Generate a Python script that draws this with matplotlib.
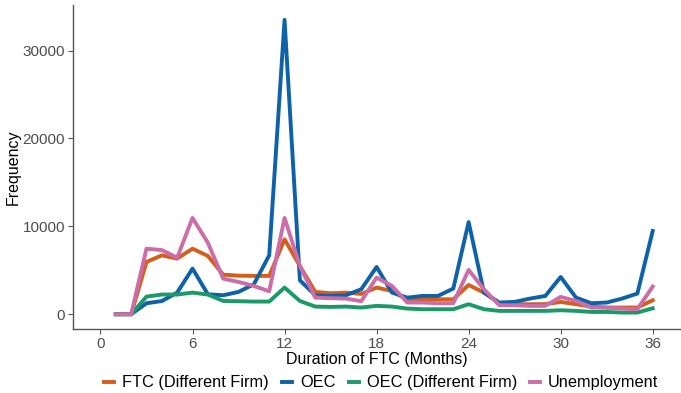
import matplotlib
matplotlib.use("Agg")
import matplotlib.pyplot as plt

plt.rcParams['font.family'] = ['Liberation Sans', 'DejaVu Sans']

months = list(range(1, 37))

ftc_diff = [0, 0, 5950, 6700, 6330, 7460, 6630, 4500, 4390, 4360, 4360, 8520,
            5490, 2540, 2390, 2460, 2310, 3030, 2650, 1630, 1700, 1700, 1700, 3330,
            2460, 1250, 1140, 1140, 1140, 1400, 1140, 870, 760, 760, 760, 1590]
oec = [0, 0, 1250, 1500, 2460, 5190, 2270, 2160, 2540, 3410, 6700, 33500,
       3860, 2160, 2080, 2160, 2840, 5380, 2460, 1890, 2080, 2080, 2920, 10490,
       2460, 1330, 1400, 1780, 2080, 4240, 1890, 1250, 1330, 1780, 2350, 9470]
oec_diff = [0, 0, 2000, 2240, 2240, 2460, 2240, 1510, 1480, 1440, 1440, 3030,
            1510, 870, 830, 870, 760, 950, 870, 640, 570, 570, 570, 1140,
            570, 380, 380, 380, 380, 450, 380, 260, 260, 190, 190, 680]
unemp = [0, 0, 7460, 7300, 6440, 10950, 8140, 4050, 3670, 3220, 2610, 10950,
         5490, 1890, 1820, 1780, 1480, 4170, 3220, 1330, 1330, 1250, 1250, 5040,
         2840, 1020, 1020, 950, 950, 1970, 1510, 760, 760, 640, 570, 3150]

series = [
    ("FTC (Different Firm)", ftc_diff, "#D55E1A"),
    ("OEC", oec, "#0E62A8"),
    ("OEC (Different Firm)", oec_diff, "#1B9A68"),
    ("Unemployment", unemp, "#CC6DA8"),
]

fig = plt.figure(figsize=(6.81, 3.93), dpi=100)
ax = fig.add_axes([0.107, 0.163, 0.892, 0.824])

for name, vals, col in series:
    ax.plot(months, vals, color=col, lw=2.8, label=name)

ax.set_xlim(-1.8, 37.8)
ax.set_ylim(-1675, 35175)
ax.set_xticks([0, 6, 12, 18, 24, 30, 36])
ax.set_yticks([0, 10000, 20000, 30000])

for s in ['top', 'right']:
    ax.spines[s].set_visible(False)
for s in ['left', 'bottom']:
    ax.spines[s].set_color('#555555')
    ax.spines[s].set_linewidth(1.0)

ax.tick_params(axis='both', colors='#555555', labelcolor='#4D4D4D',
               labelsize=11, length=3.5, width=0.8, pad=2)
ax.set_xlabel("Duration of FTC (Months)", fontsize=11.5, labelpad=1)
ax.set_ylabel("Frequency", fontsize=11.5)
ax.yaxis.set_label_coords(-0.086, 0.5)

handles, labels = ax.get_legend_handles_labels()
fig.legend(handles, labels, loc='center', bbox_to_anchor=(0.56, 0.026),
           ncol=4, frameon=False, fontsize=11.8, handlelength=0.6,
           handletextpad=0.5, columnspacing=0.8, borderpad=0.2)

fig.savefig("out.png", dpi=100)
